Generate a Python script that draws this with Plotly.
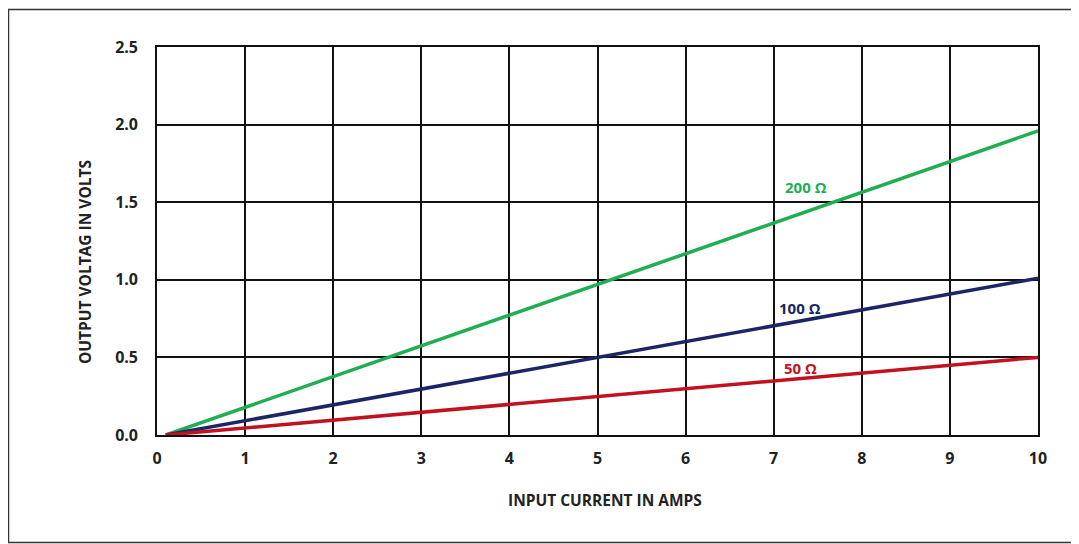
import plotly.graph_objects as go

current_start_end = [0.1, 10]
v_200 = [0.0, 1.96]
v_100 = [0.0, 1.01]
v_50 = [0.0, 0.50]

series = [("200 Ω", v_200, "#1fae52"), ("100 Ω", v_100, "#1c2566"), ("50 Ω", v_50, "#c1121f")]
label_pos = {"200 Ω": (7.37, 1.60), "100 Ω": (7.30, 0.82), "50 Ω": (7.30, 0.43)}

x_ticks = list(range(0, 11))
y_ticks = [0.0, 0.5, 1.0, 1.5, 2.0, 2.5]

# page has an 8px body margin; plot area on page: x 157..1038, y 47..435
OFF = 8
W, H = 1079 - OFF, 544 - OFF
PL, PT, PW, PH = 157, 47, 881, 388
L, T = PL - OFF, PT - OFF
R, B = W - L - PW, H - T - PH


def px(xp):
    return (xp - PL) / PW


def py(yp):
    return (PT + PH - yp) / PH


FONT = "Open Sans"
TXT = "#222"

fig = go.Figure()
for name, ys, col in series:
    fig.add_trace(go.Scatter(x=current_start_end, y=ys, mode="lines",
                             line=dict(color=col, width=3.5), name=name, showlegend=False))
    lx, ly = label_pos[name]
    fig.add_annotation(x=lx, y=ly, text=name, showarrow=False,
                       font=dict(family=FONT, size=15, color=col, weight="bold"))

axis_common = dict(showgrid=True, gridcolor="#111", gridwidth=1.6,
                   showline=True, linecolor="#111", linewidth=1.6, mirror=True,
                   zeroline=False, ticks="",
                   tickfont=dict(family=FONT, size=16, color=TXT, weight="bold"))

fig.update_xaxes(range=[0, 10], tickvals=x_ticks, ticktext=[str(v) for v in x_ticks],
                 ticklabelstandoff=8, **axis_common)
fig.update_yaxes(range=[0, 2.5], tickvals=y_ticks, ticktext=[f"{v:.1f}" for v in y_ticks],
                 ticklabelstandoff=14, **axis_common)

fig.add_annotation(xref="paper", yref="paper", x=px(605), y=py(500),
                   text="INPUT CURRENT IN AMPS", showarrow=False,
                   xanchor="center", yanchor="middle",
                   font=dict(family=FONT, size=15.5, color=TXT, weight="bold"))
fig.add_annotation(xref="paper", yref="paper", x=px(85), y=py(262),
                   text="OUTPUT VOLTAG IN VOLTS", showarrow=False, textangle=-90,
                   xanchor="center", yanchor="middle",
                   font=dict(family=FONT, size=15.5, color=TXT, weight="bold"))

fig.add_shape(type="rect", xref="paper", yref="paper",
              x0=px(8.5), x1=px(1400), y0=py(542.5), y1=py(9.5),
              line=dict(color="#333", width=1.5), fillcolor="rgba(0,0,0,0)")

fig.update_layout(width=W, height=H, margin=dict(l=L, r=R, t=T, b=B),
                  paper_bgcolor="white", plot_bgcolor="white")

fig.write_html("out.html")
